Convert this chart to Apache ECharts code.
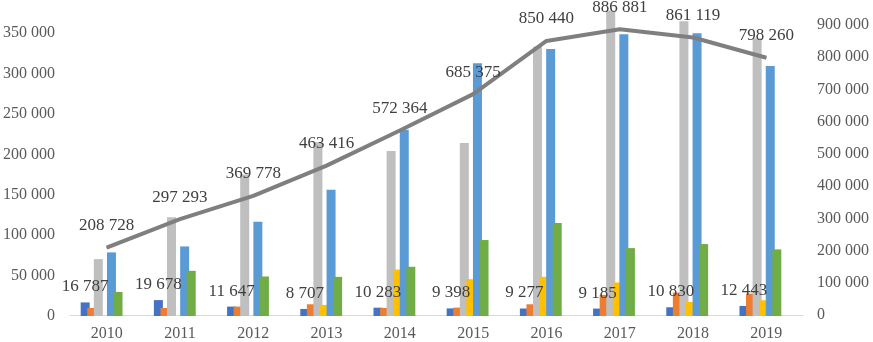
<!DOCTYPE html>
<html>
<head>
<meta charset="utf-8">
<script src="https://cdn.jsdelivr.net/npm/echarts@6/dist/echarts.min.js"></script>
<style>
  html, body { margin: 0; padding: 0; background: #fff; }
  #chart { width: 873px; height: 342px; }
</style>
</head>
<body>
<div id="chart"></div>
<script>
var years = ['2010', '2011', '2012', '2013', '2014', '2015', '2016', '2017', '2018', '2019']
// bar series (left axis)
var blueVals = [16787, 19678, 11647, 8707, 10283, 9398, 9277, 9185, 10830, 12443]
var orangeVals = [10000, 10000, 11600, 14500, 10000, 10400, 14500, 26100, 29000, 27700]
var grayVals = [70400, 122100, 175000, 215000, 204100, 214000, 333300, 378000, 364800, 343800]
var yellowVals = [0, 0, 0, 13700, 57500, 45500, 48400, 41400, 17400, 19500]
var lightBlueVals = [78700, 86100, 116700, 156100, 230600, 312600, 330400, 348600, 349800, 309300]
var greenVals = [29800, 55900, 48900, 48400, 60900, 94000, 115100, 84000, 89000, 82400]
// line (right axis)
var totalVals = [208728, 297293, 369778, 463416, 572364, 685375, 850440, 886881, 861119, 798260]

function fmt(v) {
  return String(v).replace(/\B(?=(\d{3})+(?!\d))/g, ' ')
}

var font = 'Liberation Serif, Times New Roman, serif'
var myChart = echarts.init(document.getElementById('chart'))

function bar(name, data, color, label) {
  var s = {
    name: name,
    type: 'bar',
    xAxisIndex: 0,
    yAxisIndex: 0,
    data: data,
    barWidth: 9,
    barGap: '-27%',
    itemStyle: { color: color },
    animation: false
  }
  if (label) {
    s.label = {
      show: true,
      position: 'top',
      distance: 7,
      color: '#404040',
      fontSize: 17,
      fontFamily: font,
      formatter: function(p) { return fmt(p.value) }
    }
  }
  return s
}

// the source picture is cropped at the top, so the axes stop short of a round max
myChart.setOption({
  backgroundColor: '#fff',
  animation: false,
  grid: [
    { left: 64, right: 76, top: 0, bottom: 26 },
    { left: 70, right: 70, top: 0, bottom: 26 }
  ],
  xAxis: [
    { gridIndex: 0, type: 'category', data: years, show: false },
    {
      gridIndex: 1,
      type: 'category',
      data: years,
      axisLine: { lineStyle: { color: '#D9D9D9', width: 1 } },
      axisTick: { show: false },
      axisLabel: { color: '#595959', fontSize: 16, fontFamily: font, margin: 11 }
    }
  ],
  yAxis: [
    {
      gridIndex: 0,
      type: 'value',
      min: 0,
      max: 391000,
      interval: 50000,
      splitLine: { show: false },
      axisLine: { show: false },
      axisTick: { show: false },
      axisLabel: {
        color: '#595959', fontSize: 16, fontFamily: font, margin: 10,
        showMaxLabel: false,
        formatter: fmt
      }
    },
    {
      gridIndex: 1,
      type: 'value',
      position: 'right',
      min: 0,
      max: 977500,
      interval: 100000,
      splitLine: { show: false },
      axisLine: { show: false },
      axisTick: { show: false },
      axisLabel: {
        color: '#595959', fontSize: 16, fontFamily: font, margin: 14,
        showMaxLabel: false,
        formatter: fmt
      }
    }
  ],
  series: [
    bar('s1', blueVals, '#4472C4', true),
    bar('s2', orangeVals, '#ED7D31'),
    bar('s3', grayVals, '#BFBFBF'),
    bar('s4', yellowVals, '#FFC000'),
    bar('s5', lightBlueVals, '#5B9BD5'),
    bar('s6', greenVals, '#70AD47'),
    {
      name: 'total',
      type: 'line',
      xAxisIndex: 1,
      yAxisIndex: 1,
      data: totalVals,
      symbol: 'circle',
      symbolSize: 1,
      showSymbol: true,
      itemStyle: { color: '#7F7F7F' },
      lineStyle: { color: '#7F7F7F', width: 4 },
      label: {
        show: true,
        position: 'top',
        distance: 13,
        color: '#404040',
        fontSize: 17,
        fontFamily: font,
        formatter: function(p) { return fmt(p.value) }
      }
    }
  ]
})
</script>
</body>
</html>
